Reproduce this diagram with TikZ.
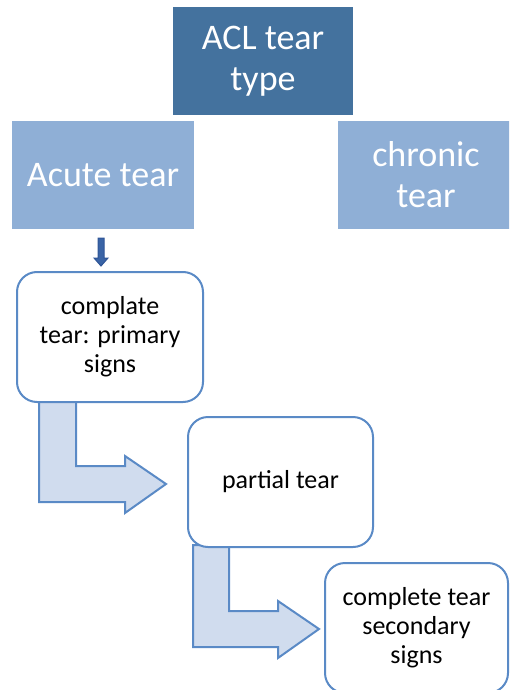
\documentclass[tikz,border=0pt]{standalone}
\usepackage{fontspec}
\setmainfont{Carlito}
\definecolor{darkbox}{HTML}{44729E}
\definecolor{lightbox}{HTML}{8FAFD6}
\definecolor{edgeblue}{HTML}{5A8AC6}
\definecolor{arrowfill}{HTML}{D0DCEE}
\definecolor{smallarrow}{HTML}{3A64A6}
\definecolor{smallarrowedge}{HTML}{2F5597}
\begin{document}
\begin{tikzpicture}[x=1pt,y=-1pt,
  topbox/.style={rectangle, fill=darkbox, text=white, minimum width=180pt, minimum height=108pt, inner sep=0pt, align=center, font=\fontsize{36}{41}\selectfont},
  catbox/.style={rectangle, fill=lightbox, text=white, minimum height=108pt, inner sep=0pt, align=center, font=\fontsize{36}{41}\selectfont},
  stagebox/.style={rectangle, rounded corners=20pt, draw=edgeblue, line width=2pt, fill=white, minimum width=185pt, minimum height=130pt, inner sep=0pt, align=center, font=\fontsize{26}{29}\selectfont},
  bentarrow/.style={draw=edgeblue, line width=2pt, fill=arrowfill, line join=miter},
  downarrow/.style={draw=smallarrowedge, line width=1pt, fill=smallarrow}
]
\useasboundingbox (0,0) rectangle (509,690);
\clip (0,0) rectangle (509,690);
% bent arrows (under the boxes)
\draw[bentarrow] (39,400) -- (76,400) -- (76,466) -- (125,466) -- (125,456) -- (166,484) -- (125,513) -- (125,502) -- (39,502) -- cycle;
\draw[bentarrow] (193,545) -- (229,545) -- (229,611) -- (278,611) -- (278,601) -- (319,629) -- (278,658) -- (278,647) -- (193,647) -- cycle;
% nodes
\node[topbox] (acl) at (263,61) {ACL tear\\type};
\node[catbox, minimum width=182pt] (acute) at (103,175) {Acute tear};
\node[catbox, minimum width=176pt] (chronic) at (426,175) {chronic\\tear};
\node[stagebox, minimum width=186pt] (complate) at (110,337) {complate\\tear: primary\\signs};
\node[stagebox] (partial) at (280.5,482) {partial tear};
\node[stagebox, minimum width=183pt] (complete) at (416.5,628) {complete tear\\secondary\\signs};
% small down arrow
\coordinate (d0) at (101,238);
\draw[downarrow] (98,238) -- (104,238) -- (104,258) -- (108,258) -- (101,266) -- (94,258) -- (98,258) -- cycle;
\end{tikzpicture}
\end{document}
